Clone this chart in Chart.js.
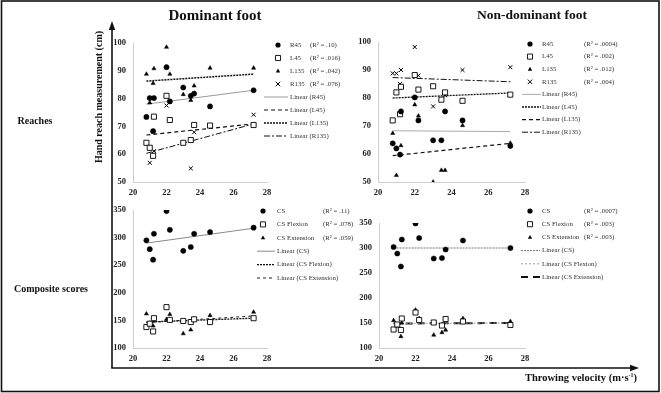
<!DOCTYPE html>
<html><head><meta charset="utf-8">
<script src="https://cdn.jsdelivr.net/npm/chart.js@4.4.0/dist/chart.umd.min.js"></script>
<style>
html,body{margin:0;padding:0;background:#fff;}
#wrap{position:relative;width:661px;height:393px;overflow:hidden;font-family:"Liberation Serif","Times New Roman",serif;background:#fff;}
canvas{position:absolute;left:0;top:0;}
svg{position:absolute;left:0;top:0;}
.t{position:absolute;font-weight:bold;color:#111;white-space:nowrap;transform:translate(-50%,-50%);line-height:1;}
</style></head><body>
<div id="wrap">
<canvas id="cTL" width="661" height="393"></canvas>
<canvas id="cTR" width="661" height="393"></canvas>
<canvas id="cBL" width="661" height="393"></canvas>
<canvas id="cBR" width="661" height="393"></canvas>
<svg width="661" height="393">
  <rect x="1.5" y="1" width="657.5" height="390.5" fill="none" stroke="#111" stroke-width="1.6"/>
  <line x1="112" y1="28" x2="112" y2="368" stroke="#111" stroke-width="1.6"/>
  <polygon points="112,21 108.8,30 115.2,30" fill="#111"/>
  <line x1="111.2" y1="368" x2="632" y2="368" stroke="#111" stroke-width="1.6"/>
  <polygon points="639,368 630,364.8 630,371.2" fill="#111"/>
</svg>
<div class="t" style="left:215px;top:15px;font-size:15px;">Dominant foot</div>
<div class="t" style="left:532px;top:15px;font-size:13.5px;">Non-dominant foot</div>
<div class="t" style="left:35px;top:121px;font-size:10px;">Reaches</div>
<div class="t" style="left:51px;top:289px;font-size:10px;">Composite scores</div>
<div class="t" style="left:99px;top:97px;font-size:10px;transform:translate(-50%,-50%) rotate(-90deg);">Hand reach measurement (cm)</div>
<div class="t" style="left:581px;top:378px;font-size:10.5px;">Throwing velocity (m·s<sup style="font-size:6px;vertical-align:4px;">-1</sup>)</div>
</div>
<script>
// ---------- data ----------
const velocity = [20.8, 21.0, 21.2, 21.25, 22.0, 22.2, 23.0, 23.45, 23.65, 24.6, 27.2];
const xTicks = [20, 22, 24, 26, 28];

// Dominant foot - reaches (cm)
const domR45  = [73.4, 80.2, 68.3, 80.2, 91.3, 79.0, 84.0, 81.0, 81.8, 77.2, 83.0];
const domL45  = [64.1, 62.3, 59.4, 73.5, 81.0, 72.3, 64.1, 65.1, 70.5, 70.3, 70.5];
const domL135 = [88.8, 78.5, 85.5, 90.8, 98.5, 88.8, 81.5, 79.4, 84.6, 91.0, 91.0];
const domR135 = [73.3, 56.9, 68.3, 61.1, 77.5, 72.3, 64.1, 54.9, 67.9, 70.3, 74.2];
const domReachTrend = { R45: [78.0, 83.0], L45: [66.9, 70.9], L135: [86.3, 88.8], R135: [60.3, 70.9] };
const domReachR2 = ['(R² = .10)', '(R² = .016)', '(R² = .042)', '(R² = .076)'];

// Non-dominant foot - reaches (cm)
const ndR45  = [63.8, 62.0, 59.8, 75.2, 80.2, 72.0, 64.9, 64.9, 75.2, 72.0, 62.9];
const ndL45  = [72.0, 82.0, 74.2, 84.0, 88.2, 83.0, 84.2, 79.4, 82.0, 79.0, 81.2];
const ndL135 = [67.4, 52.4, 59.8, 63.0, 77.6, 73.6, 50.0, 54.2, 54.2, 70.2, 63.9];
const ndR135 = [88.8, 88.8, 85.0, 90.0, 98.2, 88.0, 77.0, 79.2, 81.0, 90.0, 91.0];
const ndReachTrend = { R45: [68.3, 68.0], L45: [80.0, 81.8], L135: [59.4, 63.8], R135: [87.3, 85.8] };
const ndReachR2 = ['(R² = .0004)', '(R² = .002)', '(R² = .012)', '(R² = .004)'];

// Dominant foot - composite scores
const domCS   = [295, 279, 260, 307, 348, 314, 276, 283, 307, 310, 318];
const domFlex = [138, 144, 130, 154, 174, 151, 149, 147, 152, 147, 154];
const domExt  = [162, 145, 140, 150, 152, 161, 126, 133, 152, 159, 165];
const domCSTrend = { CS: [290, 317], Flex: [147, 154], Ext: [146, 158] };
const domCSR2 = ['(R² = .11)', '(R² = .078)', '(R² = .059)'];

// Non-dominant foot - composite scores
const ndCS   = [302, 289, 263, 317, 349, 320, 279, 280, 297, 315, 300];
const ndFlex = [137, 147, 136, 159, 171, 156, 151, 145, 158, 153, 146];
const ndExt  = [155, 144, 123, 150, 176, 159, 126, 131, 136, 159, 153];
const ndCSTrend = { CS: [300, 300], Flex: [149, 150], Ext: [149, 150] };
const ndCSR2 = ['(R² = .0007)', '(R² = .003)', '(R² = .003)'];

const reachNames = ['R45', 'L45', 'L135', 'R135'];
const csNames = ['CS', 'CS Flexion', 'CS Extension'];

// ---------- styles ----------
const FONT = '"Liberation Serif", "Times New Roman", serif';
const markerStyles = {
  circle:   { pointStyle: 'circle',   radius: 2.6, fill: '#000', bw: 0.5 },
  rect:     { pointStyle: 'rect',     radius: 3.6, fill: '#fff', bw: 0.9 },
  triangle: { pointStyle: 'triangle', radius: 2.4, fill: '#000', bw: 0.5 },
  crossRot: { pointStyle: 'crossRot', radius: 2.8, fill: '#000', bw: 1.0 }
};

function drawMarker(ctx, style, x, y) {
  const m = markerStyles[style];
  ctx.save();
  ctx.fillStyle = m.fill; ctx.strokeStyle = '#000'; ctx.lineWidth = m.bw;
  const r = m.radius;
  ctx.beginPath();
  if (style === 'circle') { ctx.arc(x, y, r, 0, Math.PI * 2); ctx.fill(); }
  else if (style === 'rect') { const s = r * Math.SQRT1_2; ctx.rect(x - s, y - s, 2 * s, 2 * s); ctx.fill(); ctx.stroke(); }
  else if (style === 'triangle') { ctx.moveTo(x, y - r); ctx.lineTo(x + r * 0.9, y + r * 0.6); ctx.lineTo(x - r * 0.9, y + r * 0.6); ctx.closePath(); ctx.fill(); }
  else { const s = r * 0.8; ctx.moveTo(x - s, y - s); ctx.lineTo(x + s, y + s); ctx.moveTo(x + s, y - s); ctx.lineTo(x - s, y + s); ctx.stroke(); }
  ctx.restore();
}

const figLegend = {
  id: 'figLegend',
  afterDraw(chart) {
    const cfg = chart.options.plugins.figLegend;
    if (!cfg) return;
    const ctx = chart.ctx;
    ctx.save();
    ctx.font = '6.8px ' + FONT;
    ctx.fillStyle = '#333';
    ctx.textBaseline = 'middle';
    chart.data.datasets.forEach((ds, i) => {
      const y = cfg.y0 + i * cfg.dy;
      if (ds.isTrend) {
        ctx.save();
        ctx.strokeStyle = ds.borderColor; ctx.lineWidth = ds.borderWidth;
        ctx.setLineDash(ds.borderDash || []);
        ctx.beginPath(); ctx.moveTo(cfg.lineX0, y); ctx.lineTo(cfg.lineX1, y); ctx.stroke();
        ctx.restore();
        ctx.fillText(ds.label, cfg.textX, y);
      } else {
        drawMarker(ctx, ds.markerName, cfg.markerX, y);
        ctx.fillText(ds.label, cfg.textX, y);
        ctx.fillText(ds.r2, cfg.r2X, y);
      }
    });
    ctx.restore();
  }
};

function makeChart(id, area, yr, series, trends, legend) {
  const vMin = Math.min(...velocity), vMax = Math.max(...velocity);
  const datasets = [];
  series.forEach(s => {
    const m = markerStyles[s.marker];
    datasets.push({
      label: s.name, r2: s.r2, markerName: s.marker,
      data: velocity.map((v, i) => ({ x: v, y: s.values[i] })),
      showLine: false, pointStyle: m.pointStyle, pointRadius: m.radius,
      pointBackgroundColor: m.fill, pointBorderColor: '#000', pointBorderWidth: m.bw,
      borderColor: '#000', backgroundColor: m.fill, order: 1
    });
  });
  trends.forEach(t => {
    datasets.push({
      label: t.name, isTrend: true,
      data: [{ x: vMin, y: t.values[0] }, { x: vMax, y: t.values[1] }],
      showLine: true, pointRadius: 0, borderColor: t.color, borderWidth: t.width,
      borderDash: t.dash, fill: false, order: 2
    });
  });
  const tickFont = { family: FONT, size: 8.5, weight: 'bold' };
  return new Chart(document.getElementById(id), {
    type: 'scatter',
    data: { datasets },
    plugins: [figLegend],
    options: {
      responsive: false, animation: false, devicePixelRatio: 1,
      layout: { padding: { left: area.l - 26, right: 661 - area.r, top: area.t, bottom: 393 - area.b - 20 } },
      plugins: { legend: { display: false }, tooltip: { enabled: false }, figLegend: legend },
      scales: {
        x: {
          type: 'linear', min: 20, max: 28,
          afterBuildTicks: s => { s.ticks = xTicks.map(v => ({ value: v })); },
          afterFit: s => { s.height = 20; },
          grid: { display: false, drawTicks: false },
          border: { display: true, color: '#cfcfcf', width: 1 },
          ticks: { font: tickFont, color: '#222', padding: 6, maxRotation: 0 }
        },
        y: {
          type: 'linear', min: yr.min, max: yr.max,
          afterBuildTicks: s => { s.ticks = yr.ticks.map(v => ({ value: v })); },
          afterFit: s => { s.width = 26; },
          grid: { display: false, drawTicks: false },
          border: { display: true, color: '#cfcfcf', width: 1 },
          ticks: { font: tickFont, color: '#222', padding: 7 }
        }
      }
    }
  });
}

const reachY = { min: 50, max: 100, ticks: [50, 60, 70, 80, 90, 100] };
const csY = { min: 100, max: 350, ticks: [100, 150, 200, 250, 300, 350] };
const reachMarkers = ['circle', 'rect', 'triangle', 'crossRot'];
const csMarkers = ['circle', 'rect', 'triangle'];

function reachSeries(vals, r2) {
  return reachNames.map((n, i) => ({ name: n, values: vals[i], r2: r2[i], marker: reachMarkers[i] }));
}
function csSeries(vals, r2) {
  return csNames.map((n, i) => ({ name: n, values: vals[i], r2: r2[i], marker: csMarkers[i] }));
}

makeChart('cTL', { l: 133, r: 267, t: 43, b: 182 }, reachY,
  reachSeries([domR45, domL45, domL135, domR135], domReachR2),
  [
    { name: 'Linear (R45)',  values: domReachTrend.R45,  color: '#9a9a9a', width: 1,   dash: [] },
    { name: 'Linear (L45)',  values: domReachTrend.L45,  color: '#111',    width: 1.2, dash: [4, 3] },
    { name: 'Linear (L135)', values: domReachTrend.L135, color: '#111',    width: 1.5, dash: [2, 1] },
    { name: 'Linear (R135)', values: domReachTrend.R135, color: '#111',    width: 1,   dash: [6, 2, 2, 2] }
  ],
  { markerX: 278, textX: 290, r2X: 310, lineX0: 264, lineX1: 288, y0: 45, dy: 13 });

makeChart('cTR', { l: 378, r: 525, t: 42, b: 182 }, reachY,
  reachSeries([ndR45, ndL45, ndL135, ndR135], ndReachR2),
  [
    { name: 'Linear (R45)',  values: ndReachTrend.R45,  color: '#aaaaaa', width: 1,   dash: [] },
    { name: 'Linear (L45)',  values: ndReachTrend.L45,  color: '#111',    width: 1.3, dash: [2, 1] },
    { name: 'Linear (L135)', values: ndReachTrend.L135, color: '#111',    width: 1.2, dash: [4, 3] },
    { name: 'Linear (R135)', values: ndReachTrend.R135, color: '#111',    width: 1,   dash: [6, 2, 2, 2] }
  ],
  { markerX: 530, textX: 542, r2X: 584, lineX0: 522, lineX1: 541, y0: 44, dy: 12.6 });

makeChart('cBL', { l: 133, r: 267, t: 210, b: 348 }, csY,
  csSeries([domCS, domFlex, domExt], domCSR2),
  [
    { name: 'Linear (CS)',           values: domCSTrend.CS,   color: '#888', width: 1,   dash: [] },
    { name: 'Linear (CS Flexion)',   values: domCSTrend.Flex, color: '#111', width: 1.3, dash: [2, 1] },
    { name: 'Linear (CS Extension)', values: domCSTrend.Ext,  color: '#222', width: 1,   dash: [3, 3] }
  ],
  { markerX: 263, textX: 277, r2X: 323, lineX0: 257, lineX1: 275, y0: 211, dy: 13.4 });

makeChart('cBR', { l: 379, r: 525, t: 223, b: 348 }, csY,
  csSeries([ndCS, ndFlex, ndExt], ndCSR2),
  [
    { name: 'Linear (CS)',           values: ndCSTrend.CS,   color: '#777', width: 1, dash: [2, 1] },
    { name: 'Linear (CS Flexion)',   values: ndCSTrend.Flex, color: '#999', width: 1, dash: [2, 2] },
    { name: 'Linear (CS Extension)', values: ndCSTrend.Ext,  color: '#111', width: 2, dash: [7, 5] }
  ],
  { markerX: 530, textX: 542, r2X: 584, lineX0: 521, lineX1: 540, y0: 211, dy: 13.2 });
</script>
</body></html>
